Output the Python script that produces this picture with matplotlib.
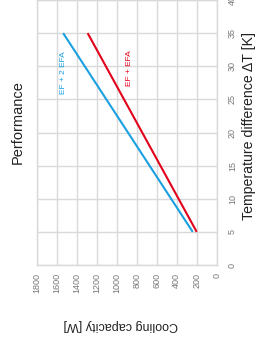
import matplotlib.pyplot as plt

plt.rcParams['font.family'] = ['Liberation Sans', 'DejaVu Sans']

# Data
delta_t = [5, 35]
ef_2efa = [240, 1535]   # EF + 2 EFA, cooling capacity [W]
ef_efa = [200, 1290]    # EF + EFA

x_ticks = [0, 200, 400, 600, 800, 1000, 1200, 1400, 1600, 1800]
y_ticks = [0, 5, 10, 15, 20, 25, 30, 35, 40]

blue = '#1aa0e0'
red = '#e3001b'
grid = '#d9d9d9'
tick_col = '#777777'

fig = plt.figure(figsize=(2.58, 3.51), dpi=100)
ax = fig.add_axes([0.142, 0.245, 0.698, 0.755])

ax.plot(ef_2efa, delta_t, color=blue, lw=1.5, solid_capstyle='butt')
ax.plot(ef_efa, delta_t, color=red, lw=1.5, solid_capstyle='butt')

ax.set_xlim(1800, 0)
ax.set_ylim(0, 40)
ax.set_xticks(x_ticks)
ax.set_yticks(y_ticks)
ax.grid(True, color=grid, lw=1.0)
ax.set_axisbelow(True)
for s in ax.spines.values():
    s.set_color(grid)
    s.set_linewidth(1.0)

ax.yaxis.tick_right()
ax.tick_params(length=0, labelsize=6.5, labelcolor=tick_col)
ax.tick_params(axis='x', pad=6)
ax.tick_params(axis='y', pad=8)
for t in ax.get_xticklabels():
    t.set_rotation(90)
for t in ax.get_yticklabels():
    t.set_rotation(90)
    t.set_va('center')

# line labels
ax.text(1527, 29, 'EF + 2 EFA', color=blue, rotation=90, fontsize=6,
        ha='center', va='center')
ax.text(867, 29.7, 'EF + EFA', color=red, rotation=90, fontsize=6,
        ha='center', va='center')

# axis titles
fig.text(249.5 / 258, 1 - 126 / 351, 'Temperature difference ΔT [K]',
         rotation=90, fontsize=10.2, ha='center', va='center', color='#222222')
fig.text(121 / 258, 1 - 325 / 351, 'Cooling capacity [W]',
         rotation=180, fontsize=9, ha='center', va='center', color='#222222')
fig.text(18 / 258, 1 - 122 / 351, 'Performance',
         rotation=90, fontsize=10.5, ha='center', va='center', color='#222222')

fig.savefig('out.png', dpi=100)
